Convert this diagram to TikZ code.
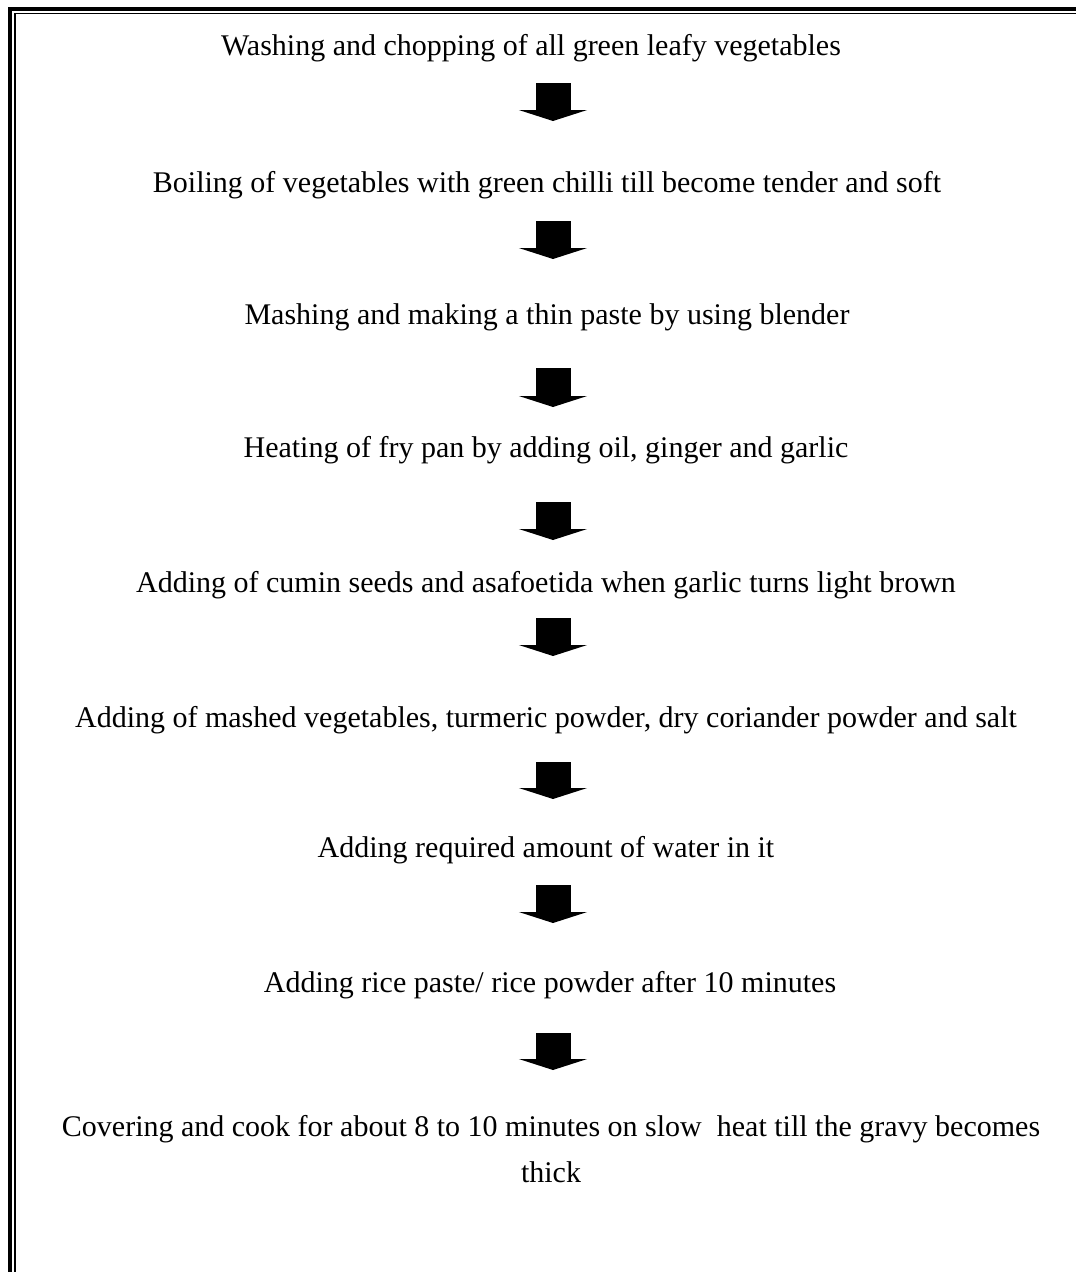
\documentclass[tikz,border=0pt]{standalone}
\usepackage{fontspec}
\setmainfont{Liberation Serif}
\usepackage{tikz}
\usetikzlibrary{arrows.meta,positioning}

\begin{document}
\begin{tikzpicture}[x=1pt, y=-1pt,
  every node/.style={font=\fontsize{30}{46}\selectfont},
  stage/.style={inner sep=0pt, align=center},
  blockarrow/.style={line width=35pt, -{Triangle[width=68pt,length=11pt]}}]
  \useasboundingbox (0,0) rectangle (1076,1272);
  % frame (top and left only)
  \draw[line width=4.2pt, miter limit=10] (10,1272) -- (10,9) -- (1076,9);
  \draw[line width=1.6pt, miter limit=10] (15,1272) -- (15,13.4) -- (1076,13.4);
  % steps
  \node[stage] (wash)  at (531,48)  {Washing and chopping of all green leafy vegetables};
  \node[stage] (boil)  at (547,185) {Boiling of vegetables with green chilli till become tender and soft};
  \node[stage] (mash)  at (547,317) {Mashing and making a thin paste by using blender};
  \node[stage] (heat)  at (546,450) {Heating of fry pan by adding oil, ginger and garlic};
  \node[stage] (cumin) at (546,585) {Adding of cumin seeds and asafoetida when garlic turns light brown};
  \node[stage] (mix)   at (546,720) {Adding of mashed vegetables, turmeric powder, dry coriander powder and salt};
  \node[stage] (water) at (546,850) {Adding required amount of water in it};
  \node[stage] (rice)  at (550,985) {Adding rice paste/ rice powder after 10 minutes};
  \node[stage] (cover) at (551,1149) {Covering and cook for about 8 to 10 minutes on slow\ \ heat till the gravy becomes\\thick};
  % arrow ends
  \coordinate (wash-out)  at (553,83);   \coordinate (boil-in)  at (553,121);
  \coordinate (boil-out)  at (553,221);  \coordinate (mash-in)  at (553,259);
  \coordinate (mash-out)  at (553,368);  \coordinate (heat-in)  at (553,407);
  \coordinate (heat-out)  at (553,502);  \coordinate (cumin-in) at (553,540);
  \coordinate (cumin-out) at (553,618);  \coordinate (mix-in)   at (553,656);
  \coordinate (mix-out)   at (553,762);  \coordinate (water-in) at (553,799);
  \coordinate (water-out) at (553,885);  \coordinate (rice-in)  at (553,923);
  \coordinate (rice-out)  at (553,1033); \coordinate (cover-in) at (553,1070);
  % arrows
  \draw[blockarrow] (wash-out) -- (boil-in);
  \draw[blockarrow] (boil-out) -- (mash-in);
  \draw[blockarrow] (mash-out) -- (heat-in);
  \draw[blockarrow] (heat-out) -- (cumin-in);
  \draw[blockarrow] (cumin-out) -- (mix-in);
  \draw[blockarrow] (mix-out) -- (water-in);
  \draw[blockarrow] (water-out) -- (rice-in);
  \draw[blockarrow] (rice-out) -- (cover-in);
\end{tikzpicture}
\end{document}
